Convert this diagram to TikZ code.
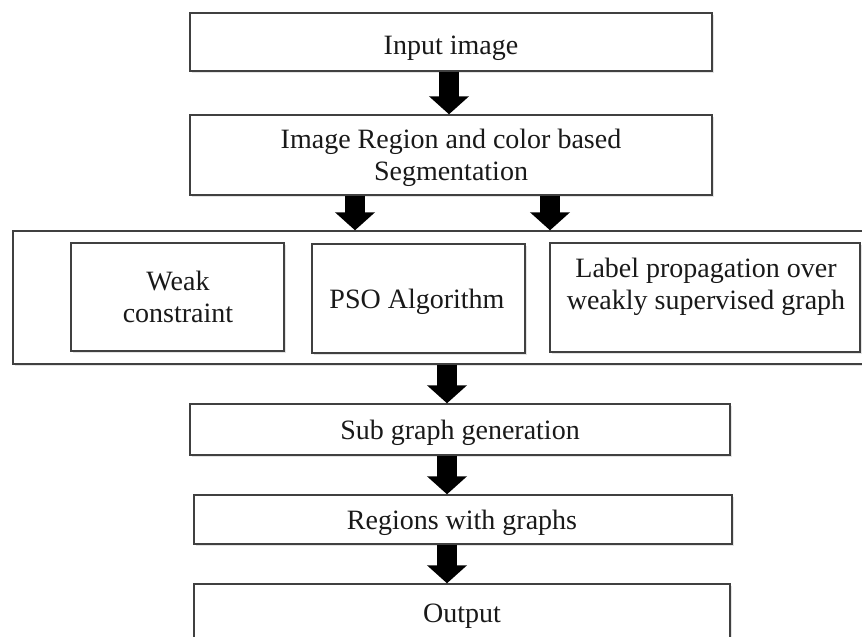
\documentclass[tikz,border=0pt]{standalone}
\usepackage{fontspec}
\setmainfont{Liberation Serif}
\usetikzlibrary{arrows.meta,shadows}
\begin{document}
\begin{tikzpicture}[x=1pt,y=-1pt,
  box/.style={draw=black!75, line width=1.4pt, fill=white, inner sep=0pt,
    drop shadow={shadow xshift=1.5pt, shadow yshift=-1.5pt, opacity=0.22}},
  txt/.style={font=\fontsize{28}{32}\selectfont, inner sep=0pt, anchor=base, text=black!90},
  blk/.style={line width=20pt, -{Triangle[length=18pt,width=39pt]}}]
\useasboundingbox (0,0) rectangle (862,637);
% boxes
\node[box, minimum width=522pt, minimum height=58pt]  (inp)  at (451,42) {};
\node[box, minimum width=522pt, minimum height=80pt]  (seg)  at (451,155) {};
\node[box, minimum width=857pt, minimum height=133pt] (cont) at (441.5,297.5) {};
\node[box, minimum width=213pt, minimum height=108pt] (weak) at (177.5,297) {};
\node[box, minimum width=213pt, minimum height=109pt] (pso)  at (418.5,298.5) {};
\node[box, minimum width=310pt, minimum height=109pt] (lab)  at (705,297.5) {};
\node[box, minimum width=540pt, minimum height=51pt]  (sub)  at (460,429.5) {};
\node[box, minimum width=538pt, minimum height=49pt]  (reg)  at (463,519.5) {};
\node[box, minimum width=536pt, minimum height=66pt]  (out)  at (462,617) {};
% texts
\node[txt] (tinp)  at (451,54)  {Input image};
\node[txt] (tseg1) at (451,148) {Image Region and color based};
\node[txt] (tseg2) at (451,180) {Segmentation};
\node[txt] (tweak1) at (178,290) {Weak};
\node[txt] (tweak2) at (178,322) {constraint};
\node[txt] (tpso)  at (417,308) {PSO Algorithm};
\node[txt] (tlab1) at (706,277) {Label propagation over};
\node[txt] (tlab2) at (706,309) {weakly supervised graph};
\node[txt] (tsub)  at (460,439) {Sub graph generation};
\node[txt] (treg)  at (462,529) {Regions with graphs};
\node[txt] (tout)  at (462,622) {Output};
% arrows
\coordinate (ax1) at (449,0);
\coordinate (ax2) at (355,0);
\coordinate (ax3) at (550,0);
\coordinate (ax4) at (447,0);
\draw[blk] (inp.south -| ax1) -- (seg.north -| ax1);
\draw[blk] (seg.south -| ax2) -- (cont.north -| ax2);
\draw[blk] (seg.south -| ax3) -- (cont.north -| ax3);
\draw[blk] (cont.south -| ax4) -- (sub.north -| ax4);
\draw[blk] (sub.south -| ax4) -- (reg.north -| ax4);
\draw[blk] (reg.south -| ax4) -- (out.north -| ax4);
\end{tikzpicture}
\end{document}
